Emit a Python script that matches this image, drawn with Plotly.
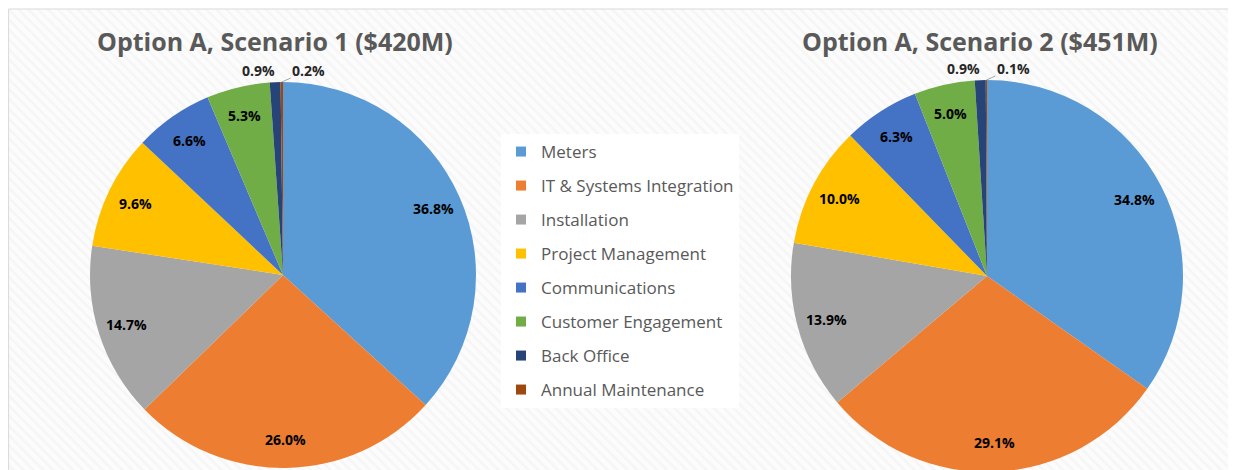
import math
import plotly.graph_objects as go

categories = ["Meters", "IT & Systems Integration", "Installation", "Project Management",
              "Communications", "Customer Engagement", "Back Office", "Annual Maintenance"]
scenario1 = [36.8, 26.0, 14.7, 9.6, 6.6, 5.3, 0.9, 0.2]
scenario2 = [34.8, 29.1, 13.9, 10.0, 6.3, 5.0, 0.9, 0.1]
titles = ["Option A, Scenario 1 ($420M)", "Option A, Scenario 2 ($451M)"]
colors = ["#5B9BD5", "#ED7D31", "#A5A5A5", "#FFC000", "#4472C4", "#70AD47", "#264478", "#9E480E"]

W, H = 1236, 470
FONT = "Open Sans"

# pie geometry in figure pixels (centre x, centre y from top, radius)
pies = [(275, 267, 193), (979, 268, 196)]
title_x = [267, 972]


def px(x):
    return x / W


def py(y):
    return 1 - y / H


fig = go.Figure()

# hatched chart background
fig.add_trace(go.Bar(x=[0], y=[1], width=[1], showlegend=False, hoverinfo="skip",
                     marker=dict(color="#FBFBFB", line=dict(width=0),
                                 pattern=dict(shape="\\", fgcolor="#EFEFEF", bgcolor="#FCFCFC",
                                              size=7, solidity=0.35)),
                     xaxis="x", yaxis="y"))

ann = []
for vals, (cx, cy, r), title, tx in zip([scenario1, scenario2], pies, titles, title_x):
    dom = dict(x=[px(cx - r), px(cx + r)], y=[max(0, py(cy + r)), py(cy - r)])
    fig.add_trace(go.Pie(labels=categories, values=vals, sort=False, direction="clockwise",
                         rotation=0, domain=dom, showlegend=False, textinfo="none",
                         marker=dict(colors=colors, line=dict(width=0)),
                         hoverinfo="label+value"))
    total = sum(vals)
    cum = 0.0
    n = len(vals)
    for i, v in enumerate(vals):
        mid = (cum + v / 2) / total * 2 * math.pi
        cum += v
        label = f"{v:.1f}%"
        if i < n - 2:
            f = 0.85
            x = cx + f * r * math.sin(mid)
            y = cy - f * r * math.cos(mid)
            ann.append(dict(text=label, x=px(x), y=py(y), xref="paper", yref="paper",
                            showarrow=False, xanchor="center", yanchor="middle",
                            font=dict(family=FONT, size=14, color="#000000", weight="bold")))
        else:
            ex = cx + r * math.sin(mid)
            ey = cy - r * math.cos(mid)
            if i == n - 2:
                ann.append(dict(text=label, x=px(ex), y=py(ey), xref="paper", yref="paper",
                                showarrow=False, xanchor="right", yanchor="bottom", yshift=0,
                                xshift=2,
                                font=dict(family=FONT, size=14, color="#262626", weight="bold")))
            else:
                ann.append(dict(text=label, x=px(ex), y=py(ey), xref="paper", yref="paper",
                                showarrow=True, arrowhead=0, arrowwidth=1, arrowcolor="#A6A6A6",
                                ax=27, ay=-12, standoff=0, startstandoff=0,
                                font=dict(family=FONT, size=14, color="#262626", weight="bold")))
    ann.append(dict(text=title, x=px(tx), y=py(33), xref="paper", yref="paper",
                    showarrow=False, xanchor="center", yanchor="middle",
                    font=dict(family=FONT, size=25, color="#595959", weight="bold")))

# legend entries
for i, (c, col) in enumerate(zip(categories, colors)):
    fig.add_trace(go.Scatter(x=[None], y=[None], mode="markers", name=c, legendgroup=f"g{i}",
                             marker=dict(symbol="square", size=10, color=col),
                             xaxis="x", yaxis="y"))

fig.update_layout(
    width=W, height=H, margin=dict(l=0, r=0, t=0, b=0),
    paper_bgcolor="white", plot_bgcolor="rgba(0,0,0,0)",
    xaxis=dict(domain=[0, 1], range=[-0.5, 0.5], visible=False, fixedrange=True),
    yaxis=dict(domain=[0, py(1)], range=[0, 1], visible=False, fixedrange=True),
    bargap=0,
    annotations=ann,
    shapes=[dict(type="rect", xref="paper", yref="paper", x0=0.0005, x1=1.01, y0=-0.01, y1=py(1),
                 line=dict(color="#D9D9D9", width=1), fillcolor="rgba(0,0,0,0)")],
    legend=dict(x=px(493), y=py(126), xanchor="left", yanchor="top",
                bgcolor="white", borderwidth=0, traceorder="grouped", tracegroupgap=8.9,
                itemwidth=30, font=dict(family=FONT, size=17, color="#595959")),
    showlegend=True,
)

fig.write_html("out.html")
